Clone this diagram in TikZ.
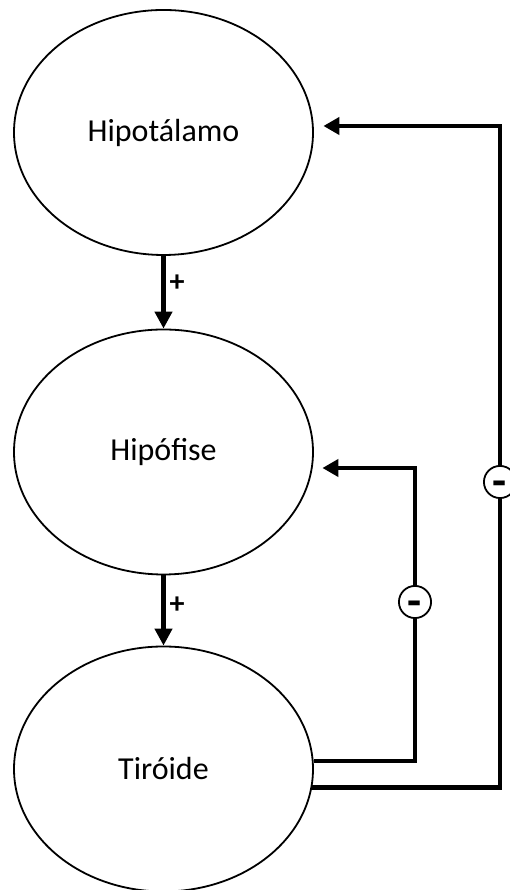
\documentclass[tikz,border=0pt]{standalone}
\usepackage{fontspec}
\setmainfont{Carlito}
\usetikzlibrary{shapes.geometric,arrows.meta}
\begin{document}
\begin{tikzpicture}[x=1pt,y=1pt,
  organ/.style={draw, line width=1.8pt, ellipse, minimum width=299pt, minimum height=245pt, inner sep=0pt, font=\fontsize{32}{32}\selectfont},
  stim/.style={line width=4.5pt, -{Triangle[length=17pt,width=17pt]}},
  fb/.style={line width=4.5pt, -{Triangle[length=16pt,width=17pt]}},
  plus/.style={font=\fontsize{30}{30}\selectfont\bfseries, inner sep=0pt},
  minus/.style={draw, circle, fill=white, line width=1.8pt, minimum size=32pt, inner sep=0pt, text height=29pt, text depth=0pt, font=\fontsize{46}{46}\selectfont\bfseries}
]
\useasboundingbox (0,0) rectangle (510,890);
\node[organ] (hipo) at (163.5,757.5) {Hipotálamo};
\node[organ] (hipof) at (163.5,438) {Hipófise};
\node[organ] (tir) at (163.5,121) {Tiróide};

\draw[stim] (hipo.south) -- (hipof.north);
\draw[stim] (hipof.south) -- (tir.north);
\node[plus] (p1) at (177,607) {+};
\node[plus] (p2) at (177,285) {+};

\coordinate (k1) at (415,422);
\coordinate (k2) at (500,764);
\draw[fb, shorten >=8.5pt] (tir.3.8) -| (k1) -- (k1 -| hipof.east);
\draw[fb, shorten >=9.5pt] (tir.-7.2) -| (k2) -- (k2 -| hipo.east);

\node[minus] (m1) at (415,288) {-};
\node[minus] (m2) at (500,408) {-};
\end{tikzpicture}
\end{document}
